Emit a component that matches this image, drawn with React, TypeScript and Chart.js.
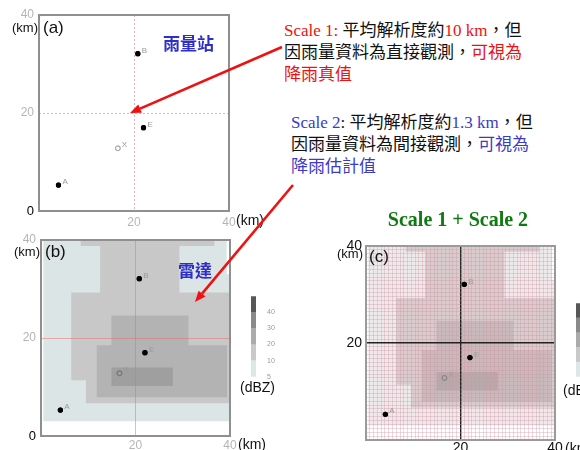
import React, { useEffect, useRef } from 'react';
import { Chart, registerables } from 'chart.js';
Chart.register(...registerables);

// ---------------- data ----------------
const stationNames = ['A', 'B', 'E'];
const stationX = [4.1, 20.8, 22.0];
const stationY = [5.3, 32.1, 17.0];
const targetNames = ['X'];
const targetX = [16.6];
const targetY = [12.8];

const mainTicks = [0, 20, 40];
const fineStep = 0.8;

// radar echo regions (km), one polygon per dBZ level
const echo5X = [0.5, 40, 40, 39.3, 39.3, 0.5];
const echo5Y = [3, 3, 33, 33, 40, 40];
const echo10X = [8.4, 36.7, 36.7, 29.3, 29.3, 40, 40, 9.5, 9.5, 6.4, 6.4, 12.5, 12.5, 8.4];
const echo10Y = [40, 40, 38.8, 38.8, 29.3, 29.3, 6.7, 6.7, 11.4, 11.4, 29.3, 29.3, 38.8, 38.8];
const echo20X = [14.9, 31.2, 31.2, 39.4, 39.4, 11.8, 11.8, 14.9];
const echo20Y = [24.6, 24.6, 18.5, 18.5, 7.9, 7.9, 18.5, 18.5];
const echo30X = [14.9, 27.9, 27.9, 14.9];
const echo30Y = [14.0, 14.0, 10.2, 10.2];

const dbzTickLabels = ['5', '10', '20', '30', '40', ''];
const dbzBands = ['5-10', '10-20', '20-30', '30-40', '40+'];
const dbzBandSize = [1, 1, 1, 1, 1];

// ---------------- styles ----------------
const radarColors = ['#dce5e5', '#c8c8c8', '#b3b3b3', '#9f9f9f'];
const blendColors = ['#eee9eb', '#d9cbce', '#cab9bc', '#b9a9ac'];
const barColors = ['#dde7e7', '#c9c9c9', '#ababab', '#8a8a8a', '#575757'];

const sans = '"Liberation Sans", Arial, sans-serif';
const serifCJK = '"Liberation Serif", "Noto Sans CJK TC", serif';
const cjk = '"Noto Sans CJK TC", sans-serif';
const RED = '#ee1111';
const BLUE = '#3b3bc4';

const pts = (xs: number[], ys: number[]) => xs.map((x, i) => ({ x, y: ys[i] }));
const poly = (xs: number[], ys: number[]) => {
  const p = pts(xs, ys);
  return [...p, p[0]];
};

const framePlugin = {
  id: 'frame',
  afterDraw(chart: any, _a: any, opts: any) {
    const { ctx, chartArea: a } = chart;
    ctx.save();
    ctx.strokeStyle = (opts && opts.color) || '#8f8f8f';
    ctx.lineWidth = (opts && opts.width) || 2;
    ctx.strokeRect(a.left, a.top, a.right - a.left, a.bottom - a.top);
    ctx.restore();
  },
};

// redraws the station datasets above the grid layer and labels them
const pointNamesPlugin = {
  id: 'pointNames',
  afterDraw(chart: any) {
    const { ctx } = chart;
    chart.data.datasets.forEach((ds: any, i: number) => {
      if (!ds.pointNames) return;
      const meta = chart.getDatasetMeta(i);
      ctx.save();
      meta.controller.draw();
      ctx.restore();
      meta.data.forEach((el: any, j: number) => {
        ctx.save();
        ctx.fillStyle = '#9a9a9a';
        ctx.font = `8px ${sans}`;
        ctx.textBaseline = 'middle';
        ctx.fillText(ds.pointNames[j], el.x + 4, el.y - 3);
        ctx.restore();
      });
    });
  },
};

type PanelOpts = {
  echoColors: string[] | null;
  fine: boolean;
  yWidth: number;
  xHeight: number;
  pad: { top: number; right: number; left: number; bottom: number };
  crossColor: string;
  crossDash: number[];
  crossWidth: number;
  fineColor: string;
  tickColor: string;
  tickSize: number;
  zeroLabel: boolean;
  xTickPad: number;
  yTickPad: number;
  frameColor: string;
  targetColor: string;
};

const isV = (v: number, t: number) => Math.abs(v - t) < 1e-6;
const tv = (c: any) => (c && c.tick ? c.tick.value : NaN);

function panelConfig(o: PanelOpts): any {
  const datasets: any[] = [
    {
      data: pts(stationX, stationY),
      pointNames: stationNames,
      pointRadius: 2.6,
      backgroundColor: '#000',
      borderWidth: 0,
      showLine: false,
    },
    {
      data: pts(targetX, targetY),
      pointNames: targetNames,
      pointRadius: 2.4,
      backgroundColor: 'rgba(0,0,0,0)',
      borderColor: o.targetColor,
      borderWidth: 1,
      showLine: false,
    },
  ];
  if (o.echoColors) {
    const polys = [
      [echo30X, echo30Y, o.echoColors[3]],
      [echo20X, echo20Y, o.echoColors[2]],
      [echo10X, echo10Y, o.echoColors[1]],
      [echo5X, echo5Y, o.echoColors[0]],
    ];
    polys.forEach(([xs, ys, c]: any) => {
      datasets.push({
        data: poly(xs, ys),
        showLine: true,
        fill: 'shape',
        backgroundColor: c,
        borderColor: c,
        borderWidth: 0,
        pointRadius: 0,
        tension: 0,
      });
    });
  }
  const scale = (axis: 'x' | 'y') => ({
    type: 'linear',
    min: mainTicks[0],
    max: mainTicks[2],
    afterFit: (s: any) => {
      if (axis === 'x') s.height = o.xHeight;
      else s.width = o.yWidth;
    },
    border: { display: false, dash: o.crossDash },
    grid: {
      z: 1,
      drawTicks: false,
      color: (c: any) => {
        const v = tv(c);
        if (isV(v, mainTicks[1])) return o.crossColor;
        if (o.fine && v > 0.1 && v < 39.9) return o.fineColor;
        return 'rgba(0,0,0,0)';
      },
      lineWidth: (c: any) => (isV(tv(c), mainTicks[1]) ? o.crossWidth : 1),
    },
    ticks: {
      stepSize: o.fine ? fineStep : mainTicks[1],
      autoSkip: false,
      maxRotation: 0,
      padding: axis === 'x' ? o.xTickPad : o.yTickPad,
      color: (c: any) => (isV(tv(c), 0) ? '#000' : o.tickColor),
      font: (c: any) => ({ family: sans, size: isV(tv(c), 0) ? 13 : o.tickSize }),
      callback: (v: number) => {
        if (isV(v, mainTicks[1]) || isV(v, mainTicks[2])) return String(Math.round(v));
        if (isV(v, 0) && axis === 'y' && o.zeroLabel) return '0';
        return '';
      },
    },
  });
  return {
    type: 'scatter',
    data: { datasets },
    options: {
      responsive: false,
      animation: false,
      events: [],
      layout: { padding: o.pad },
      plugins: { legend: { display: false }, tooltip: { enabled: false }, frame: { color: o.frameColor, width: 2 } },
      scales: { x: scale('x'), y: scale('y') },
    },
    plugins: [framePlugin, pointNamesPlugin],
  };
}

function colorbarConfig(pad: any, yWidth: number): any {
  return {
    type: 'bar',
    data: {
      labels: ['dBZ'],
      datasets: dbzBands.map((b, i) => ({
        label: b,
        data: [dbzBandSize[i]],
        backgroundColor: barColors[i],
        barPercentage: 1,
        categoryPercentage: 1,
        borderWidth: 0,
      })),
    },
    options: {
      responsive: false,
      animation: false,
      events: [],
      layout: { padding: pad },
      plugins: { legend: { display: false }, tooltip: { enabled: false } },
      scales: {
        x: { stacked: true, display: false },
        y: {
          stacked: true,
          position: 'right',
          min: 0,
          max: dbzBands.length,
          afterFit: (s: any) => {
            s.width = yWidth;
          },
          grid: { display: false },
          border: { display: false },
          ticks: {
            stepSize: 1,
            padding: 3,
            color: '#9a9a9a',
            font: { family: sans, size: 7 },
            callback: (v: number) => dbzTickLabels[Math.round(v)] ?? '',
          },
        },
      },
    },
  };
}

function ChartCanvas({ left, top, width, height, make }: any) {
  const ref = useRef<HTMLCanvasElement>(null);
  useEffect(() => {
    let chart: any = null;
    try {
      chart = new Chart(ref.current as HTMLCanvasElement, make());
    } catch (e) {
      console.error(e);
    }
    return () => {
      if (chart) chart.destroy();
    };
  }, []);
  return (
    <canvas
      ref={ref}
      width={width}
      height={height}
      style={{ position: 'absolute', left, top, width, height }}
    />
  );
}

function Lbl({ x, cy, size, children, style }: any) {
  return (
    <div
      style={{
        position: 'absolute',
        left: x,
        top: cy - size * 0.6,
        fontSize: size,
        lineHeight: `${size * 1.2}px`,
        whiteSpace: 'nowrap',
        fontFamily: sans,
        color: '#111',
        ...style,
      }}
    >
      {children}
    </div>
  );
}

function Arrow({ x1, y1, x2, y2 }: any) {
  const ang = Math.atan2(y2 - y1, x2 - x1);
  const len = 11;
  const w = 4.5;
  const bx = x2 - len * Math.cos(ang);
  const by = y2 - len * Math.sin(ang);
  const px = -Math.sin(ang) * w;
  const py = Math.cos(ang) * w;
  return (
    <g>
      <line x1={x1} y1={y1} x2={bx} y2={by} stroke={RED} strokeWidth={2.6} />
      <polygon points={`${x2},${y2} ${bx + px},${by + py} ${bx - px},${by - py}`} fill={RED} />
    </g>
  );
}

const panelA = (): any =>
  panelConfig({
    echoColors: null,
    fine: false,
    yWidth: 39,
    xHeight: 24,
    pad: { top: 15, right: 31, left: 0, bottom: 0 },
    crossColor: '#e6b3bb',
    crossDash: [2, 2],
    crossWidth: 1,
    fineColor: 'rgba(0,0,0,0)',
    tickColor: '#b5b5b5',
    tickSize: 12,
    zeroLabel: true,
    xTickPad: 4,
    yTickPad: 5,
    frameColor: '#8f8f8f',
    targetColor: '#aaaaaa',
  });

const panelB = (): any =>
  panelConfig({
    echoColors: radarColors,
    fine: false,
    yWidth: 41,
    xHeight: 14,
    pad: { top: 15, right: 30, left: 0, bottom: 0 },
    crossColor: 'rgba(230,110,110,0.5)',
    crossDash: [],
    crossWidth: 1,
    fineColor: 'rgba(0,0,0,0)',
    tickColor: '#b5b5b5',
    tickSize: 12,
    zeroLabel: true,
    xTickPad: 2,
    yTickPad: 5,
    frameColor: '#8f8f8f',
    targetColor: '#777777',
  });

const panelC = (): any =>
  panelConfig({
    echoColors: blendColors,
    fine: true,
    yWidth: 56,
    xHeight: 30,
    pad: { top: 16, right: 25, left: 0, bottom: 0 },
    crossColor: '#222222',
    crossDash: [],
    crossWidth: 1.4,
    fineColor: 'rgba(205,150,160,0.35)',
    tickColor: '#111111',
    tickSize: 14,
    zeroLabel: false,
    xTickPad: 0,
    yTickPad: 4,
    frameColor: '#9a9a9a',
    targetColor: '#888888',
  });

export default function App() {
  return (
    <div
      style={{
        position: 'fixed',
        left: 0,
        top: 0,
        width: 580,
        height: 450,
        overflow: 'hidden',
        background: '#fff',
        fontFamily: sans,
      }}
    >
      <ChartCanvas left={0} top={0} width={260} height={235} make={panelA} />
      <ChartCanvas left={0} top={225} width={260} height={225} make={panelB} />
      <ChartCanvas left={310} top={230} width={270} height={240} make={panelC} />
      <ChartCanvas left={244} top={289} width={32} height={95} make={() => colorbarConfig({ top: 6, right: 0, left: 7, bottom: 7 }, 20)} />
      <ChartCanvas left={570} top={296} width={32} height={88} make={() => colorbarConfig({ top: 6, right: 0, left: 6, bottom: 6 }, 21)} />

      {/* panel (a) labels */}
      <Lbl x={12} cy={28} size={13}>(km)</Lbl>
      <Lbl x={43} cy={28} size={17}>(a)</Lbl>
      <Lbl x={236} cy={220} size={14}>(km)</Lbl>
      <Lbl x={163} cy={43} size={17} style={{ fontFamily: cjk, fontWeight: 700, color: '#2e2ec8' }}>雨量站</Lbl>

      {/* panel (b) labels */}
      <Lbl x={14} cy={252} size={13}>(km)</Lbl>
      <Lbl x={45} cy={252} size={17}>(b)</Lbl>
      <Lbl x={238} cy={444} size={14}>(km)</Lbl>
      <Lbl x={178} cy={270} size={17} style={{ fontFamily: cjk, fontWeight: 700, color: '#2e2ec8' }}>雷達</Lbl>
      <Lbl x={240} cy={387} size={14}>(dBZ)</Lbl>

      {/* panel (c) labels */}
      <Lbl x={337} cy={254} size={13}>(km)</Lbl>
      <Lbl x={369} cy={257} size={17}>(c)</Lbl>
      <Lbl x={565} cy={448} size={14}>(km)</Lbl>
      <Lbl x={563} cy={390} size={14}>(dBZ)</Lbl>
      <div
        style={{
          position: 'absolute',
          left: 358,
          width: 200,
          top: 207,
          textAlign: 'center',
          fontSize: 20,
          lineHeight: '24px',
          fontWeight: 700,
          fontFamily: '"Liberation Serif", serif',
          color: '#0f7a0f',
          whiteSpace: 'nowrap',
        }}
      >
        Scale 1 + Scale 2
      </div>

      {/* text blocks */}
      <div style={{ position: 'absolute', left: 284, top: 20, fontSize: 17, lineHeight: '22px', fontFamily: serifCJK, color: '#111', whiteSpace: 'nowrap' }}>
        <div>
          <span style={{ color: RED }}>Scale 1:</span> 平均解析度約<span style={{ color: RED }}>10 km</span>，但
        </div>
        <div>
          因雨量資料為直接觀測，<span style={{ color: RED }}>可視為</span>
        </div>
        <div>
          <span style={{ color: RED }}>降雨真值</span>
        </div>
      </div>
      <div style={{ position: 'absolute', left: 291, top: 112, fontSize: 17, lineHeight: '22px', fontFamily: serifCJK, color: '#111', whiteSpace: 'nowrap' }}>
        <div>
          <span style={{ color: BLUE }}>Scale 2</span>: 平均解析度約<span style={{ color: BLUE }}>1.3 km</span>，但
        </div>
        <div>
          因雨量資料為間接觀測，<span style={{ color: BLUE }}>可視為</span>
        </div>
        <div>
          <span style={{ color: BLUE }}>降雨估計值</span>
        </div>
      </div>

      <svg width={580} height={450} style={{ position: 'absolute', left: 0, top: 0, pointerEvents: 'none' }}>
        <Arrow x1={282} y1={47} x2={130} y2={113} />
        <Arrow x1={293} y1={185} x2={195} y2={302} />
      </svg>
    </div>
  );
}
